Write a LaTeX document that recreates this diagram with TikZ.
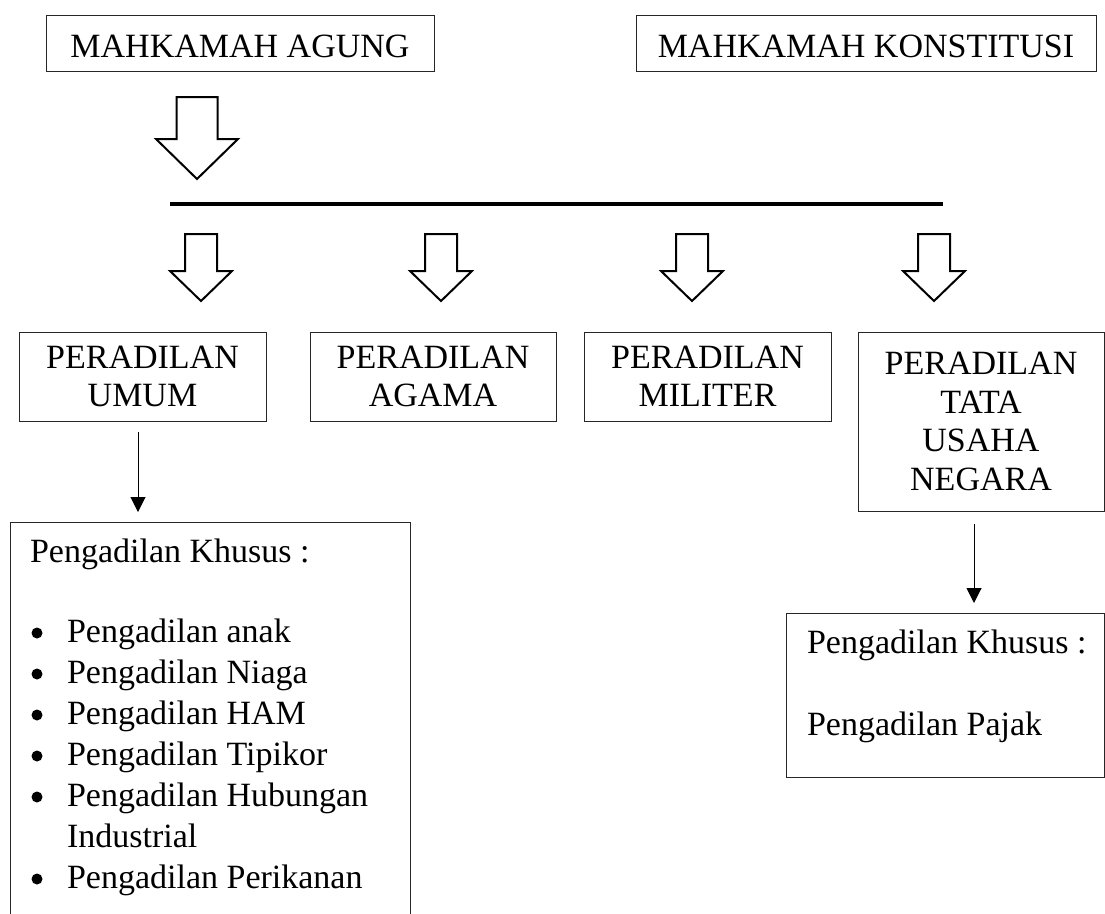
\documentclass[tikz,border=0pt]{standalone}
\usepackage{fontspec}
\setmainfont{Liberation Serif}
\usetikzlibrary{arrows.meta}
\begin{document}
\begin{tikzpicture}[x=1pt,y=-1pt,
  every node/.style={inner sep=0pt, outer sep=0pt},
  txt/.style={font=\fontsize{34}{38.5}\selectfont},
  box/.style={draw=black!85, line width=1pt, txt, align=center},
  blk/.style={draw=black, line width=2pt, fill=white, line join=miter},
  conn/.style={draw=black, line width=1pt, -{Triangle[width=15pt,length=15pt]}},
  bar/.style={draw=black, line width=3.5pt},
  lbl/.style={txt, anchor=base west},
  bigdown/.pic={\path[blk] (-20.5,0) -- (20.5,0) -- (20.5,42) -- (41,42) -- (0,82) -- (-41,42) -- (-20.5,42) -- cycle;},
  smalldown/.pic={\path[blk] (-16,0) -- (16,0) -- (16,37) -- (31,37) -- (0,67) -- (-31,37) -- (-16,37) -- cycle;}
]
\useasboundingbox[fill=white] (0,0) rectangle (1105,913);

% top boxes
\node[box, text height=29pt, minimum width=388pt, minimum height=56pt, anchor=north west] (ma) at (46,15) {MAHKAMAH AGUNG};
\node[box, text height=29pt, minimum width=460pt, minimum height=56pt, anchor=north west] (mk) at (636,15) {MAHKAMAH KONSTITUSI};

% big block arrow and bar
\pic at (197,97) {bigdown};
\coordinate (barL) at (170,204);
\coordinate (barR) at (943,204);
\draw[bar] (barL) -- (barR);

% small block arrows
\pic at (201,234) {smalldown};
\pic at (441,234) {smalldown};
\pic at (692,234) {smalldown};
\pic at (934,234) {smalldown};

% peradilan boxes
\node[box, minimum width=247pt, minimum height=89pt, anchor=north west] (umum) at (19,332) {PERADILAN\\UMUM};
\node[box, minimum width=246pt, minimum height=89pt, anchor=north west] (agama) at (310,332) {PERADILAN\\AGAMA};
\node[box, minimum width=247pt, minimum height=89pt, anchor=north west] (militer) at (584,332) {PERADILAN\\MILITER};
\node[box, minimum width=246pt, minimum height=179pt, anchor=north west] (tun) at (858,332) {PERADILAN\\TATA\\USAHA\\NEGARA};

% left special courts box (cut off at bottom)
\begin{scope}
\clip (0,0) rectangle (1105,913);
\node[box, minimum width=400pt, minimum height=440pt, anchor=north west] (khL) at (10,522) {};
\end{scope}
\node[lbl] (khLt) at (30,562) {Pengadilan Khusus :};
\node[lbl] (i1) at (67,642) {Pengadilan anak};
\node[lbl] (i2) at (67,683) {Pengadilan Niaga};
\node[lbl] (i3) at (67,724) {Pengadilan HAM};
\node[lbl] (i4) at (67,765) {Pengadilan Tipikor};
\node[lbl] (i5) at (67,806) {Pengadilan Hubungan};
\node[lbl] (i5b) at (67,847) {Industrial};
\node[lbl] (i6) at (67,888) {Pengadilan Perikanan};
\foreach \yb in {642,683,724,765,806,888}
  \fill[black] (37,\yb-9) circle (5.5pt);

% right special courts box
\node[box, minimum width=318pt, minimum height=164pt, anchor=north west] (khR) at (786,613) {};
\node[lbl] (khRt) at (807,653) {Pengadilan Khusus :};
\node[lbl] (khRp) at (807,735) {Pengadilan Pajak};

% connectors
\coordinate (ax1) at (138,0);
\coordinate (ax2) at (974,0);
\draw[conn, shorten <=11pt, shorten >=10pt] (umum.south -| ax1) -- (khL.north -| ax1);
\draw[conn, shorten <=13pt, shorten >=10pt] (tun.south -| ax2) -- (khR.north -| ax2);
\end{tikzpicture}
\end{document}
